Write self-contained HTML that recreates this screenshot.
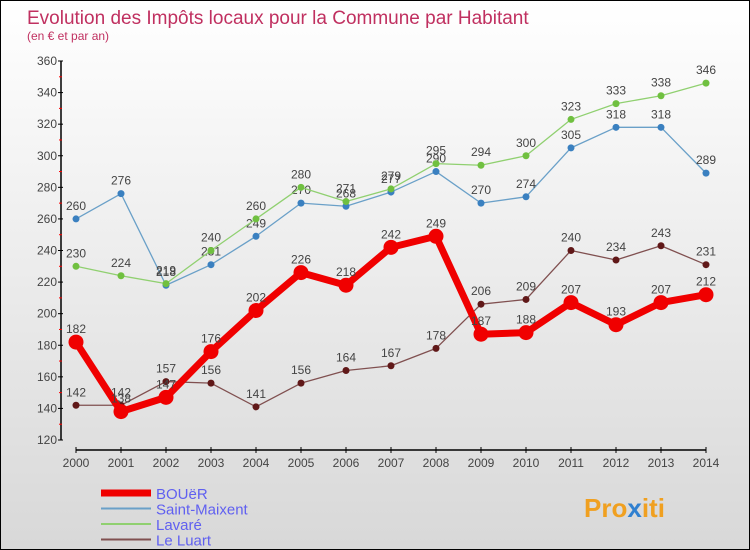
<!DOCTYPE html>
<html><head><meta charset="utf-8"><style>
body{margin:0}
#c{width:750px;height:550px;position:relative;box-sizing:border-box;border:1px solid #000;background:linear-gradient(#fff,#d8d8d8);font-family:"Liberation Sans",sans-serif;overflow:hidden}
</style></head><body>
<div id="c">
<svg id="s" width="748" height="548" xmlns="http://www.w3.org/2000/svg">
<text x="26" y="23" font-size="19" fill="#c03060">Evolution des Impôts locaux pour la Commune par Habitant</text>
<text x="26" y="39" font-size="12" fill="#c03060">(en € et par an)</text>
<g id="ax"></g><g id="pl"></g><g id="lg"></g>
<text x="583" y="516" font-size="26" font-weight="bold" fill="#f0a020">Pro<tspan fill="#3080d0">x</tspan>iti</text>
</svg></div>
<script>
const years=[2000,2001,2002,2003,2004,2005,2006,2007,2008,2009,2010,2011,2012,2013,2014];
const yTicks=[120,140,160,180,200,220,240,260,280,300,320,340,360];
const bouer=[182,138,147,176,202,226,218,242,249,187,188,207,193,207,212];
const saintMaixent=[260,276,218,231,249,270,268,277,290,270,274,305,318,318,289];
const lavare=[230,224,219,240,260,280,271,279,295,294,300,323,333,338,346];
const leLuart=[142,142,157,156,141,156,164,167,178,206,209,240,234,243,231];
const NS="http://www.w3.org/2000/svg";
const X=i=>75+i*45, Y=v=>439-(v-120)*(379/240);
function mk(p,t,a){const e=document.createElementNS(NS,t);for(const k in a)e.setAttribute(k,a[k]);p.appendChild(e);return e;}
const ax=document.getElementById('ax'),pl=document.getElementById('pl'),lg=document.getElementById('lg');
let e=mk(ax,'line',{x1:60,y1:Y(360),x2:60,y2:Y(120),stroke:'#000','stroke-width':1.5});


e=mk(ax,'line',{x1:X(0),y1:449,x2:X(14),y2:449,stroke:'#000','stroke-width':1.5});


yTicks.forEach((v,i)=>{
  mk(ax,'line',{x1:57,y1:Y(v),x2:62,y2:Y(v),stroke:'#000'});
  if(i<yTicks.length-1) mk(ax,'line',{x1:58,y1:Y(v+10),x2:61,y2:Y(v+10),stroke:'#f00'});
  const t=mk(ax,'text',{x:56,y:Y(v)+4,'font-size':12,fill:'#444','text-anchor':'end'});t.textContent=v;
  
  
});
years.forEach((yr,i)=>{
  mk(ax,'line',{x1:X(i),y1:446,x2:X(i),y2:452,stroke:'#000'});
  const t=mk(ax,'text',{x:X(i),y:466,'font-size':12,fill:'#444','text-anchor':'middle'});t.textContent=yr;
  
  
});
const series=[
 {name:'Saint-Maixent',d:saintMaixent,c:'#6aa0c8',m:'#3a80c0',w:1.3,r:3.5},
 {name:'Lavaré',d:lavare,c:'#90d070',m:'#70c040',w:1.3,r:3.5},
 {name:'Le Luart',d:leLuart,c:'#805050',m:'#601818',w:1.3,r:3.5},
 {name:'BOUëR',d:bouer,c:'#f00000',m:'#f00000',w:7,r:7.5}];
const order=[3,0,1,2];
series.forEach(s=>{
  const g=mk(pl,'g',{});
  
  
  const p=mk(g,'polyline',{points:s.d.map((v,i)=>X(i)+','+Y(v)).join(' '),fill:'none',stroke:s.c,'stroke-width':s.w,'stroke-linejoin':'round'});
  
  
  s.d.forEach((v,i)=>{
    const c=mk(g,'circle',{cx:X(i),cy:Y(v),r:s.r,fill:s.m});
    
    
    const t=mk(g,'text',{x:X(i),y:Y(v)-9,'font-size':12,fill:'#444','text-anchor':'middle'});t.textContent=v;
    
    
  });
});
order.forEach((k,j)=>{
  const s=series[k],y=492+j*15.5;
  const l=mk(lg,'line',{x1:100,y1:y,x2:150,y2:y,stroke:s.c,'stroke-width':k==3?7:2});
  
  
  const t=mk(lg,'text',{x:155,y:y+6,'font-size':15,fill:'#6060f0'});t.textContent=s.name;
  
  
});
</script>
</body></html>
